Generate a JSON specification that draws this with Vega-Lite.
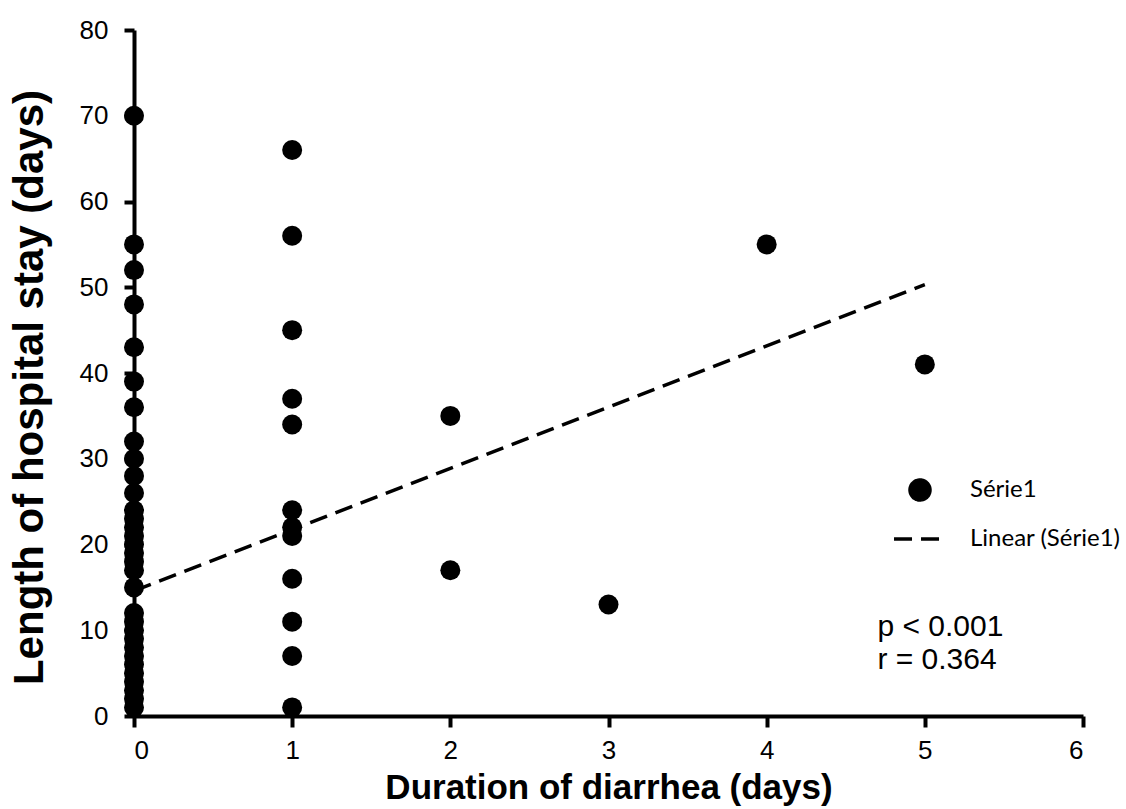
{
  "$schema": "https://vega.github.io/schema/vega-lite/v6.json",
  "width": 949,
  "height": 686,
  "autosize": {"type": "none"},
  "padding": {"left": 134, "top": 30, "right": 43, "bottom": 93},
  "background": "white",
  "config": {
    "view": {"stroke": null},
    "font": "Liberation Sans",
    "axis": {
      "grid": false,
      "domainColor": "black", "domainWidth": 4,
      "tickColor": "black", "tickWidth": 4,
      "labelFont": "Liberation Sans", "labelFontSize": 26, "labelColor": "black",
      "titleFont": "Liberation Sans", "titleFontWeight": "bold", "titleColor": "black"
    }
  },
  "datasets": {
    "obs": [
      {"duration": 0, "stay": 70}, {"duration": 0, "stay": 55}, {"duration": 0, "stay": 52},
      {"duration": 0, "stay": 48}, {"duration": 0, "stay": 43}, {"duration": 0, "stay": 39},
      {"duration": 0, "stay": 36}, {"duration": 0, "stay": 32}, {"duration": 0, "stay": 30},
      {"duration": 0, "stay": 28}, {"duration": 0, "stay": 26}, {"duration": 0, "stay": 24},
      {"duration": 0, "stay": 23}, {"duration": 0, "stay": 22}, {"duration": 0, "stay": 21},
      {"duration": 0, "stay": 20}, {"duration": 0, "stay": 19}, {"duration": 0, "stay": 18},
      {"duration": 0, "stay": 17}, {"duration": 0, "stay": 15}, {"duration": 0, "stay": 12},
      {"duration": 0, "stay": 11}, {"duration": 0, "stay": 10}, {"duration": 0, "stay": 9},
      {"duration": 0, "stay": 8}, {"duration": 0, "stay": 7}, {"duration": 0, "stay": 6},
      {"duration": 0, "stay": 5}, {"duration": 0, "stay": 4}, {"duration": 0, "stay": 3},
      {"duration": 0, "stay": 2}, {"duration": 0, "stay": 1},
      {"duration": 1, "stay": 66}, {"duration": 1, "stay": 56}, {"duration": 1, "stay": 45},
      {"duration": 1, "stay": 37}, {"duration": 1, "stay": 34}, {"duration": 1, "stay": 24},
      {"duration": 1, "stay": 22}, {"duration": 1, "stay": 21}, {"duration": 1, "stay": 16},
      {"duration": 1, "stay": 11}, {"duration": 1, "stay": 7}, {"duration": 1, "stay": 1},
      {"duration": 2, "stay": 35}, {"duration": 2, "stay": 17},
      {"duration": 3, "stay": 13},
      {"duration": 4, "stay": 55},
      {"duration": 5, "stay": 41}
    ],
    "trend": [
      {"duration": 0, "stay": 14.6},
      {"duration": 5, "stay": 50.3}
    ],
    "note": [
      {"label": "p < 0.001"}
    ]
  },
  "layer": [
    {
      "data": {"name": "trend"},
      "transform": [{"calculate": "'Linear (Série1)'", "as": "series"}],
      "mark": {"type": "line", "strokeWidth": 3.5, "clip": false},
      "encoding": {
        "x": {
          "field": "duration", "type": "quantitative",
          "scale": {"domain": [0, 6], "nice": false, "zero": false},
          "axis": {
            "title": "Duration of diarrhea (days)",
            "values": [0, 1, 2, 3, 4, 5, 6],
            "format": "d",
            "tickSize": 11,
            "labelPadding": 10,
            "titleFontSize": 35,
            "titlePadding": 7
          }
        },
        "y": {
          "field": "stay", "type": "quantitative",
          "scale": {"domain": [0, 80], "nice": false},
          "axis": {
            "title": "Length of hospital stay (days)",
            "values": [0, 10, 20, 30, 40, 50, 60, 70, 80],
            "format": "d",
            "tickSize": 10,
            "labelPadding": 16,
            "titleFontSize": 42,
            "titlePadding": 28,
            "titleY": 357
          }
        },
        "color": {
          "field": "series", "type": "nominal",
          "scale": {"domain": ["Série1", "Linear (Série1)"], "range": ["black", "black"]},
          "legend": {
            "title": null,
            "orient": "none",
            "legendX": 758,
            "legendY": 448,
            "labelFont": "Lato",
            "labelFontSize": 24,
            "labelColor": "black",
            "symbolStrokeWidth": 3.5,
            "symbolStrokeColor": "black",
            "rowPadding": 4,
            "labelOffset": 22
          }
        },
        "strokeDash": {
          "field": "series", "type": "nominal",
          "scale": {"domain": ["Série1", "Linear (Série1)"], "range": [[1, 0], [18, 9]]}
        },
        "shape": {
          "field": "series", "type": "nominal",
          "scale": {"domain": ["Série1", "Linear (Série1)"], "range": ["circle", "stroke"]}
        }
      }
    },
    {
      "data": {"name": "obs"},
      "transform": [{"calculate": "'Série1'", "as": "series"}],
      "mark": {"type": "point", "filled": true, "opacity": 1, "clip": false},
      "encoding": {
        "x": {"field": "duration", "type": "quantitative"},
        "y": {"field": "stay", "type": "quantitative"},
        "color": {"field": "series", "type": "nominal"},
        "shape": {"field": "series", "type": "nominal"},
        "size": {
          "field": "series", "type": "nominal",
          "scale": {"domain": ["Série1", "Linear (Série1)"], "range": [400, 2700]}
        }
      }
    },
    {
      "data": {"name": "note"},
      "mark": {
        "type": "text",
        "text": ["p < 0.001", "r = 0.364"],
        "align": "left",
        "baseline": "middle",
        "font": "Liberation Sans",
        "fontSize": 30,
        "lineHeight": 33,
        "color": "black"
      },
      "encoding": {
        "x": {"datum": 4.7},
        "y": {"datum": 10.4}
      }
    }
  ]
}
